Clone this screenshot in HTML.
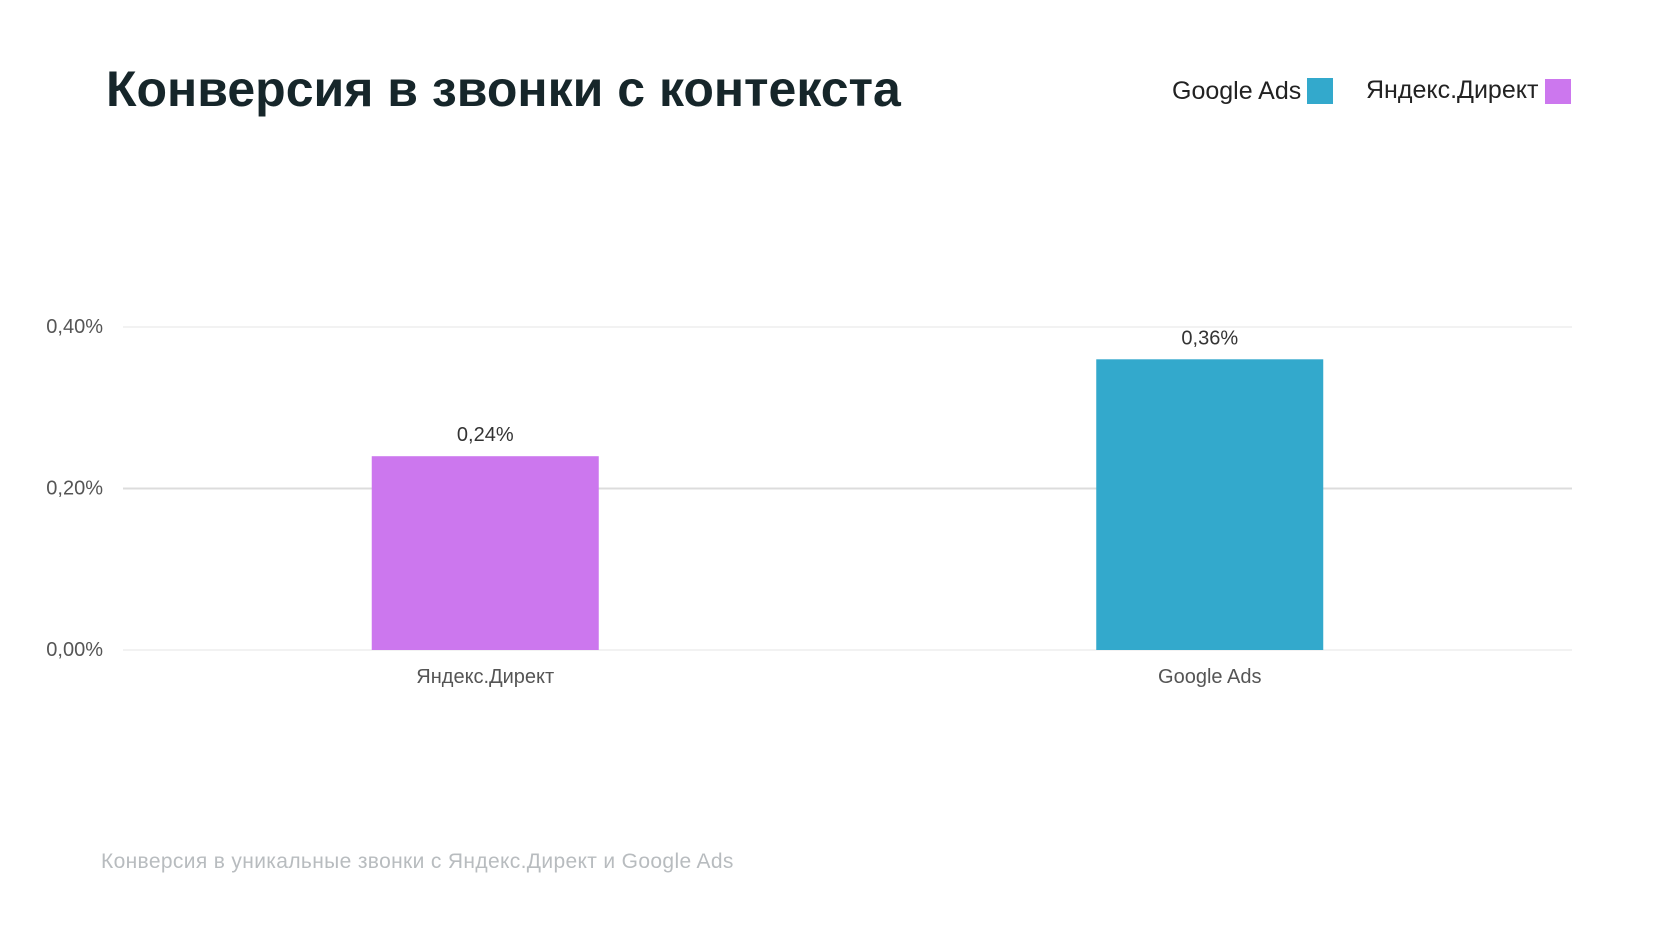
<!DOCTYPE html>
<html><head><meta charset="utf-8"><style>
body{margin:0;width:1680px;height:945px;background:#fff;font-family:"Liberation Sans","DejaVu Sans",sans-serif;position:relative;overflow:hidden}
.t{position:absolute;white-space:nowrap}
</style></head><body>
<div class="t" style="left:106px;top:60px;font-size:50px;font-weight:bold;color:#16262a;letter-spacing:0px">Конверсия в звонки с контекста</div>
<div>
<div class="t" style="left:1172px;top:77px;font-size:25px;color:#222">Google Ads</div>
<div class="t" style="left:1307px;top:78px;width:26px;height:26px;background:#33a9cc"></div>
<div class="t" style="left:1366px;top:76px;font-size:25px;color:#222">Яндекс.Директ</div>
<div class="t" style="left:1545px;top:79px;width:26px;height:25px;background:#cc77ee"></div>
</div>
<svg id="chart" width="1680" height="945" style="position:absolute;left:0;top:0"></svg>
<div class="t" style="left:101px;top:850px;font-size:21px;letter-spacing:0.35px;color:#b8bcbf">Конверсия в уникальные звонки с Яндекс.Директ и Google Ads</div>
<script>
const categories=["Яндекс.Директ","Google Ads"];
const values=[0.24,0.36];
const valueLabels=["0,24%","0,36%"];
const colors=["#cc77ee","#33a9cc"];
const ticks=[0,0.2,0.4];
const tickLabels=["0,00%","0,20%","0,40%"];
const NS="http://www.w3.org/2000/svg";
const svg=document.getElementById('chart');
const x0=123,x1=1572,yZero=650,yTop=327,vMax=0.4;
const y=v=>yZero-(v/vMax)*(yZero-yTop);
const band=(x1-x0)/categories.length;
const bw=227;
const cx=i=>x0+band*(i+0.5);
function mk(t,a){const e=document.createElementNS(NS,t);for(const k in a)e.setAttribute(k,a[k]);svg.appendChild(e);return e;}
ticks.forEach((v,i)=>{
 const l=mk('line',{x1:x0,x2:x1,y1:y(v),y2:y(v),stroke:v===0.2?'#dcdcdc':'#eeeeee','stroke-width':v===0.2?2:1.5});
 
 
 const t=mk('text',{x:103,y:y(v)+6,'text-anchor':'end','font-size':20,fill:'#555','font-family':'Liberation Sans, sans-serif'});
 t.textContent=tickLabels[i];
 
 
});
categories.forEach((c,i)=>{
 const r=mk('rect',{x:cx(i)-bw/2,y:y(values[i]),width:bw,height:yZero-y(values[i]),fill:colors[i]});
 
 
 const vl=mk('text',{x:cx(i),y:y(values[i])-15,'text-anchor':'middle','font-size':20,fill:'#333','font-family':'Liberation Sans, sans-serif'});
 vl.textContent=valueLabels[i];
 
 
 const xl=mk('text',{x:cx(i),y:683,'text-anchor':'middle','font-size':20,fill:'#555','font-family':'Liberation Sans, sans-serif'});
 xl.textContent=c;
 
 
});
</script>
</body></html>
